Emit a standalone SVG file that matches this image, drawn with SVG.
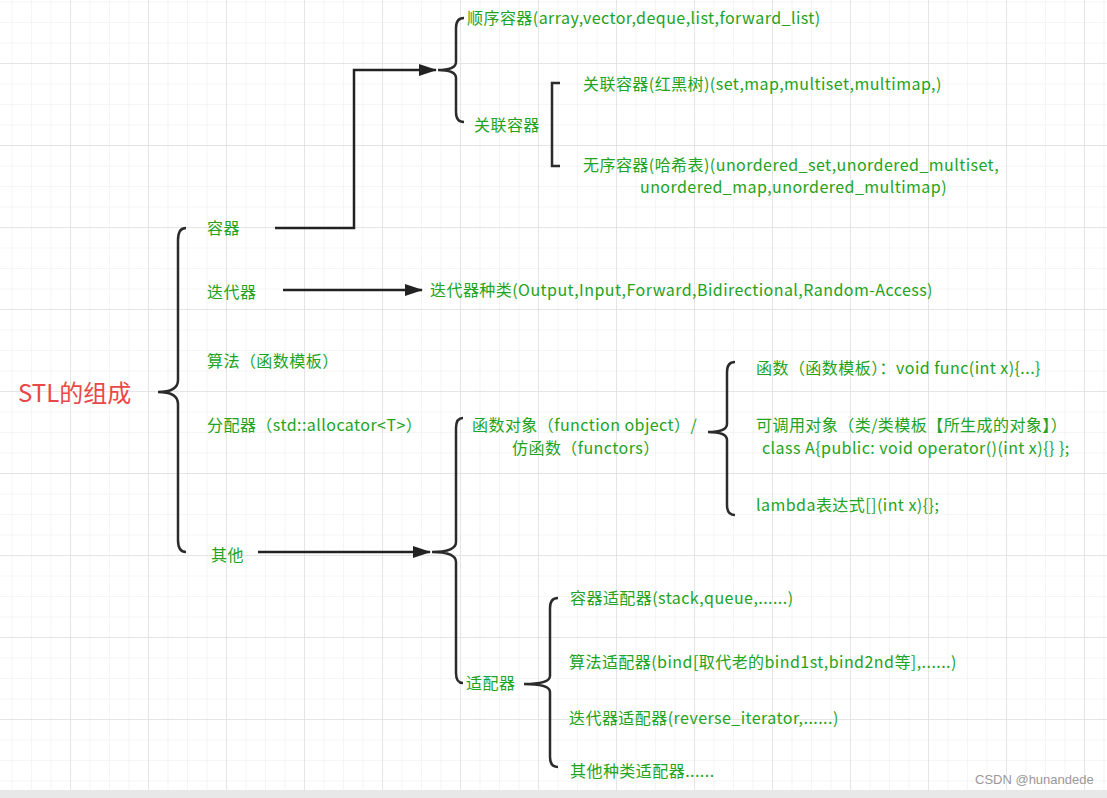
<svg xmlns="http://www.w3.org/2000/svg" width="1107" height="798" viewBox="0 0 1107 798">
<defs>
<pattern id="minor" width="19.5" height="20.5" patternUnits="userSpaceOnUse" x="-7" y="-18"><path d="M19.5 0V20.5H0" fill="none" stroke="#ececec" stroke-width="1"/></pattern>
<pattern id="major" width="78" height="82" patternUnits="userSpaceOnUse" x="-7" y="-18"><path d="M78 0V82H0" fill="none" stroke="#e0e0e0" stroke-width="1.5"/></pattern>
<marker id="ah" markerWidth="18" markerHeight="12" refX="17" refY="6" orient="auto" markerUnits="userSpaceOnUse" viewBox="0 0 18 12"><path d="M0 0L18 6L0 12z" fill="#222"/></marker>
<style>
.t{font-family:"Noto Sans CJK SC","Liberation Sans",sans-serif;font-size:16px;letter-spacing:0.45px;fill:#22a322}
.b{fill:none;stroke:#2b2b2b;stroke-width:2.5}
.c{fill:none;stroke:#222;stroke-width:2.5}
</style>
</defs>
<rect width="1107" height="798" fill="#fff"/>
<rect width="1107" height="790" fill="url(#minor)"/>
<rect width="1107" height="790" fill="url(#major)"/>
<rect y="790" width="1107" height="8" fill="#e8e8e8"/>
<g id="root"><text x="18" y="402" style="font-family:'Noto Sans CJK SC',sans-serif;font-size:24px;fill:#e84848">STL的组成</text>
<path class="b" d="M186 228Q178 228 178 240V380Q178 392 158 392Q178 392 178 404V540Q178 552 186 552"/></g>
<g id="n-rongqi"><text class="t" x="207" y="234">容器</text></g>
<g id="n-diedaiqi"><text class="t" x="207" y="298">迭代器</text></g>
<g id="n-suanfa"><text class="t" x="207" y="367">算法（函数模板）</text></g>
<g id="n-fenpeiqi"><text class="t" x="207" y="431">分配器（std::allocator&lt;T&gt;）</text></g>
<g id="n-qita"><text class="t" x="211" y="561">其他</text></g>
<g id="containers"><path class="b" d="M464 18Q456 18 456 28V62Q456 70 438 70Q456 70 456 78V112Q456 122 464 122"/>
<text class="t" x="467" y="24">顺序容器(array,vector,deque,list,forward_list)</text>
<text class="t" x="474" y="131">关联容器</text></g>
<g id="assoc"><path class="b" d="M560 83H552V166H560"/>
<text class="t" x="583" y="90">关联容器(红黑树)(set,map,multiset,multimap,)</text>
<text class="t" x="583" y="171">无序容器(哈希表)(unordered_set,unordered_multiset,</text>
<text class="t" x="640" y="193">unordered_map,unordered_multimap)</text></g>
<g id="iter"><text class="t" x="430" y="296">迭代器种类(Output,Input,Forward,Bidirectional,Random-Access)</text></g>
<g id="others"><path class="b" d="M463 418Q456 418 456 428V542Q456 552 432 552Q456 552 456 562V673Q456 683 463 683"/>
<text class="t" x="472" y="431">函数对象（function object）/</text>
<text class="t" x="512" y="454">仿函数（functors）</text>
<text class="t" x="466" y="689">适配器</text></g>
<g id="funcobj"><path class="b" d="M735 362Q727 362 727 372V424Q727 432 708 432Q727 432 727 440V505Q727 515 735 515"/>
<text class="t" x="756" y="374">函数（函数模板）：void func(int x){...}</text>
<text class="t" x="756" y="431">可调用对象（类/类模板【所生成的对象】）</text>
<text class="t" x="762" y="454">class A{public: void operator()(int x){} };</text>
<text class="t" x="756" y="511">lambda表达式[](int x){};</text></g>
<g id="adapters"><path class="b" d="M558 598Q550 598 550 608V676Q550 684 524 684Q550 684 550 692V757Q550 767 558 767"/>
<text class="t" x="570" y="604">容器适配器(stack,queue,......)</text>
<text class="t" x="569" y="668">算法适配器(bind[取代老的bind1st,bind2nd等],......)</text>
<text class="t" x="569" y="724">迭代器适配器(reverse_iterator,......)</text>
<text class="t" x="570" y="777">其他种类适配器......</text></g>
<g id="connectors">
<path class="c" d="M275 228H354V70H436" marker-end="url(#ah)"/>
<path class="c" d="M283 290H422" marker-end="url(#ah)"/>
<path class="c" d="M258 552H430" marker-end="url(#ah)"/>
</g>
<text x="975" y="784" style="font-family:'Liberation Sans',sans-serif;font-size:13px;fill:#999">CSDN @hunandede</text>
</svg>
